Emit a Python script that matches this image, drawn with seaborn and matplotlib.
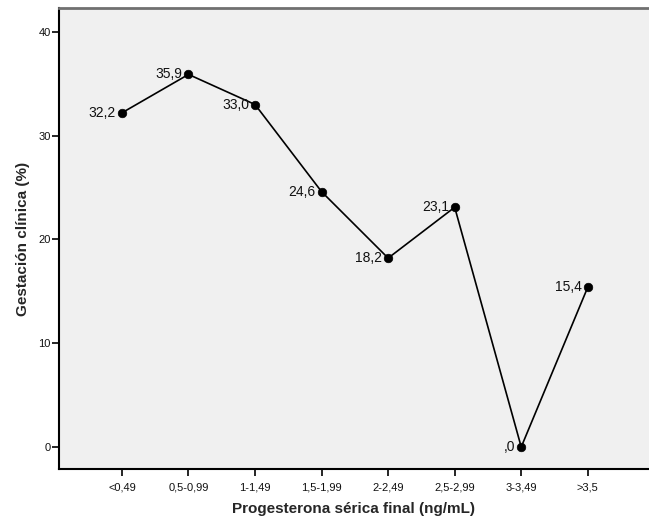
import matplotlib
matplotlib.use("Agg")
import matplotlib.pyplot as plt
import seaborn as sns
import pandas as pd

categories = ["<0,49", "0,5-0,99", "1-1,49", "1,5-1,99", "2-2,49", "2,5-2,99", "3-3,49", ">3,5"]
gestacion = [32.2, 35.9, 33.0, 24.6, 18.2, 23.1, 0.0, 15.4]
value_labels = ["32,2", "35,9", "33,0", "24,6", "18,2", "23,1", ",0", "15,4"]

df = pd.DataFrame({"pos": range(len(categories)), "valor": gestacion})

sns.set_style("white")
plt.rcParams["font.family"] = ["Liberation Sans", "DejaVu Sans"]

fig = plt.figure(figsize=(6.49, 5.25), dpi=100)
ax = fig.add_axes([59 / 649, 56 / 525, 590 / 649, 461 / 525])
ax.set_facecolor("#f0f0f0")

sns.lineplot(data=df, x="pos", y="valor", color="black", linewidth=1.2, ax=ax)
sns.scatterplot(data=df, x="pos", y="valor", color="black", s=38, edgecolor="black",
                zorder=3, ax=ax)

for x, y, lab in zip(df["pos"], df["valor"], value_labels):
    ax.annotate(lab, (x, y), xytext=(-4.2, 0), textcoords="offset points",
                ha="right", va="center", fontsize=10, color="#111111")

ax.set_xlim(-0.946, 7.92)
ax.set_ylim(-2.12, 42.3)
ax.set_xticks(range(len(categories)))
ax.set_xticklabels(categories)
ax.set_yticks([0, 10, 20, 30, 40])

ax.tick_params(axis="both", direction="out", length=5, width=1.2, color="black",
               labelsize=8, labelcolor="#111111", bottom=True, left=True, pad=1)
ax.tick_params(axis="x", pad=4.5)

for side in ["left", "bottom"]:
    ax.spines[side].set_color("black")
    ax.spines[side].set_linewidth(1.5)
ax.spines["top"].set_color("#707070")
ax.spines["top"].set_linewidth(2)
ax.spines["right"].set_visible(False)

ax.set_xlabel("Progesterona sérica final (ng/mL)", fontsize=11, fontweight="bold", labelpad=7)
ax.set_ylabel("Gestación clínica (%)", fontsize=11, fontweight="bold", labelpad=6)

fig.savefig("out.png", dpi=100)
